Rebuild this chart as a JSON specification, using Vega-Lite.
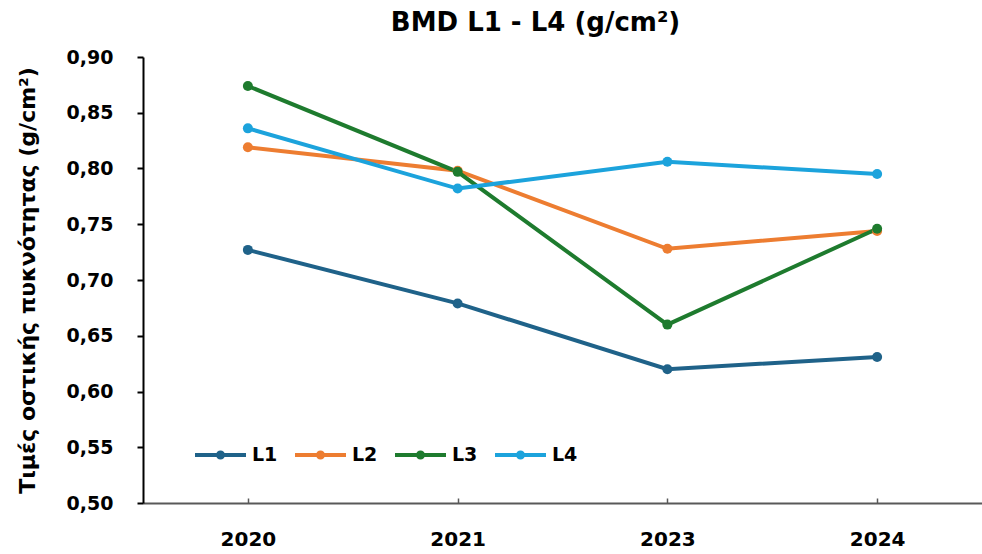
{
  "$schema": "https://vega.github.io/schema/vega-lite/v6.json",
  "width": 839,
  "height": 446,
  "autosize": {"type": "none"},
  "padding": {"left": 143, "top": 57, "right": 0, "bottom": 51},
  "background": "white",
  "title": {
    "text": "BMD L1 - L4 (g/cm²)",
    "fontSize": 26,
    "font": "DejaVu Sans",
    "fontWeight": "bold",
    "color": "#000000",
    "dx": -27,
    "offset": 12
  },
  "data": {
    "values": [
      {"year": "2020", "level": "L1", "bmd": 0.727},
      {"year": "2021", "level": "L1", "bmd": 0.679},
      {"year": "2023", "level": "L1", "bmd": 0.620},
      {"year": "2024", "level": "L1", "bmd": 0.631},
      {"year": "2020", "level": "L2", "bmd": 0.819},
      {"year": "2021", "level": "L2", "bmd": 0.798},
      {"year": "2023", "level": "L2", "bmd": 0.728},
      {"year": "2024", "level": "L2", "bmd": 0.744},
      {"year": "2020", "level": "L3", "bmd": 0.874},
      {"year": "2021", "level": "L3", "bmd": 0.797},
      {"year": "2023", "level": "L3", "bmd": 0.660},
      {"year": "2024", "level": "L3", "bmd": 0.746},
      {"year": "2020", "level": "L4", "bmd": 0.836},
      {"year": "2021", "level": "L4", "bmd": 0.782},
      {"year": "2023", "level": "L4", "bmd": 0.806},
      {"year": "2024", "level": "L4", "bmd": 0.795}
    ]
  },
  "mark": {"type": "line", "strokeWidth": 4, "point": {"size": 100, "filled": true}},
  "encoding": {
    "x": {
      "field": "year",
      "type": "ordinal",
      "scale": {"type": "point", "padding": 0.5},
      "axis": {
        "title": null,
        "labelAngle": 0,
        "labelFont": "DejaVu Sans",
        "labelFontSize": 20,
        "labelFontWeight": "bold",
        "labelColor": "#000000",
        "labelPadding": 31,
        "domainColor": "#595959",
        "domainWidth": 2,
        "tickColor": "#595959",
        "tickWidth": 1.5,
        "tickSize": -5,
        "grid": false
      }
    },
    "y": {
      "field": "bmd",
      "type": "quantitative",
      "scale": {"domain": [0.5, 0.9], "nice": false, "zero": false},
      "axis": {
        "values": [0.5, 0.55, 0.6, 0.65, 0.7, 0.75, 0.8, 0.85, 0.9],
        "labelExpr": "replace(format(datum.value, '.2f'), '.', ',')",
        "title": "Τιμές οστικής πυκνότητας (g/cm²)",
        "titleFont": "DejaVu Sans",
        "titleFontSize": 22,
        "titleFontWeight": "bold",
        "titleColor": "#000000",
        "titleX": -104,
        "labelFont": "DejaVu Sans",
        "labelFontSize": 19,
        "labelFontWeight": "bold",
        "labelColor": "#000000",
        "labelPadding": 24,
        "domainColor": "#000000",
        "domainWidth": 2,
        "tickColor": "#000000",
        "tickWidth": 2,
        "tickSize": 6,
        "grid": false
      }
    },
    "color": {
      "field": "level",
      "type": "nominal",
      "scale": {
        "domain": ["L1", "L2", "L3", "L4"],
        "range": ["#1F6289", "#ED7D31", "#1E7B2E", "#1CA3DC"]
      },
      "legend": {
        "title": null,
        "orient": "none",
        "legendX": 50,
        "legendY": 370,
        "direction": "horizontal",
        "symbolType": "M-1,0H1M-0.1,0A0.1,0.1,0,1,1,0.1,0A0.1,0.1,0,1,1,-0.1,0Z",
        "symbolSize": 2600,
        "symbolStrokeWidth": 4,
        "labelFont": "DejaVu Sans",
        "labelFontSize": 19,
        "labelFontWeight": "bold",
        "labelColor": "#000000",
        "labelOffset": 4,
        "columnPadding": 9,
        "encode": {
          "symbols": {
            "update": {
              "fill": {"scale": "color", "field": "value"}
            }
          }
        }
      }
    }
  },
  "config": {"view": {"stroke": null}}
}
